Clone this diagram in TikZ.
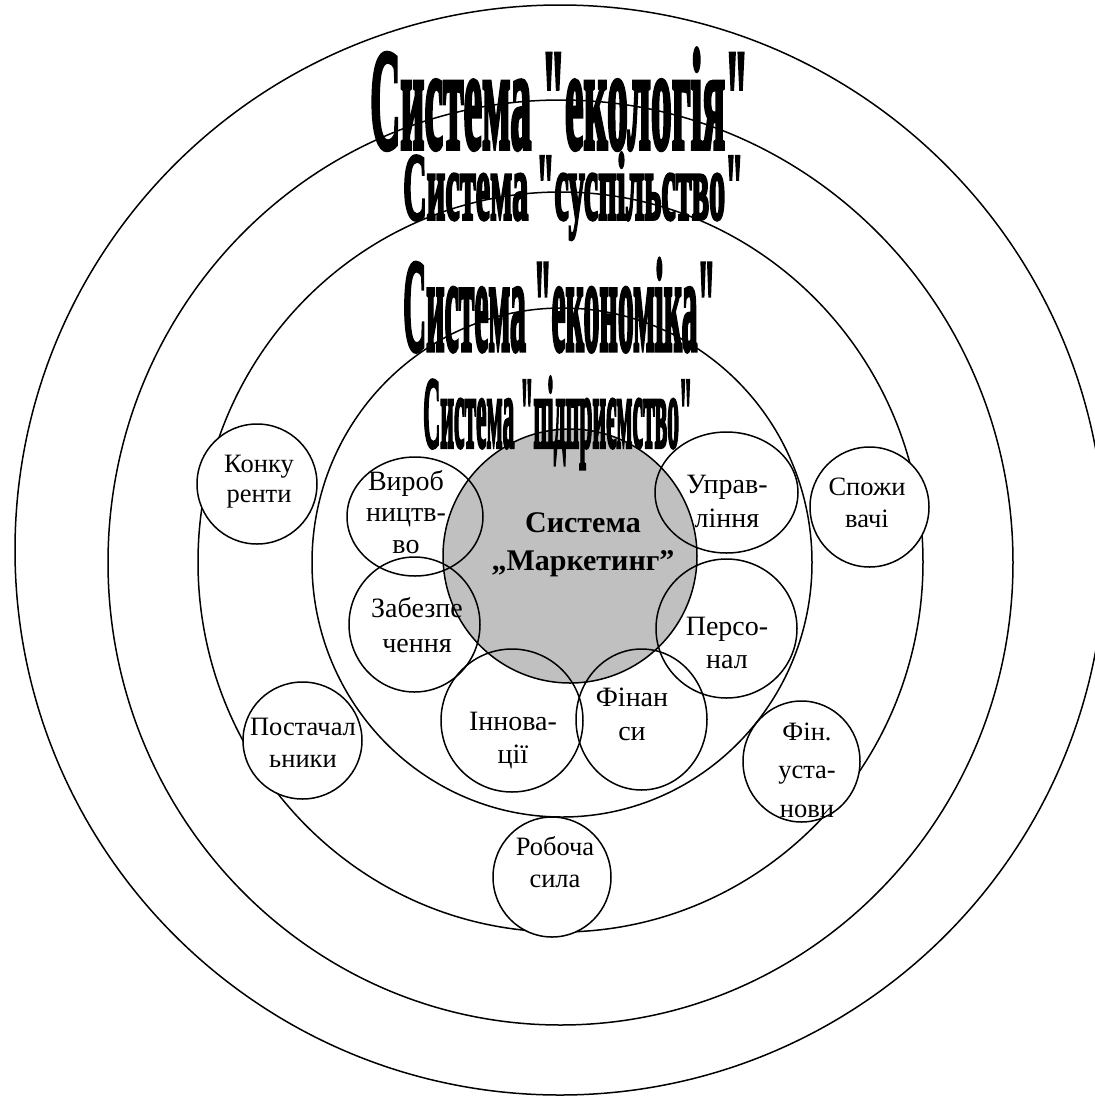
\documentclass[tikz,border=0pt]{standalone}
\usepackage{fontspec}
\setmainfont{Liberation Serif}
\newfontfamily\titlefont{Liberation Serif Bold}[FakeBold=4]
\usepackage{graphicx}
\usetikzlibrary{shapes.geometric}
\definecolor{shade}{HTML}{C0C0C0}
\tikzset{
  ring/.style={draw, ellipse, line width=1.5pt, inner sep=0pt},
  core/.style={ring, fill=shade},
  unit/.style={ring},
  outside/.style={ring, fill=white},
  lab/.style={inner sep=0pt, align=center, anchor=north, font=\fontsize{26.5}{#1}\selectfont},
  ilab/.style={inner sep=0pt, align=center, anchor=north, font=\fontsize{28}{#1}\selectfont},
  title/.style={inner sep=0pt, anchor=base west, font=\titlefont},
}
\begin{document}
\begin{tikzpicture}[x=1pt,y=-1pt]
\useasboundingbox (0,0) rectangle (1095,1096);
\clip (0,0) rectangle (1095,1096);
% system rings
\node[ring, minimum width=1090pt, minimum height=1090pt] (eco) at (560,550) {};
\node[ring, minimum width=905pt, minimum height=925pt] (soc) at (560.5,562.5) {};
\node[ring, minimum width=725pt, minimum height=740pt] (econ) at (560.5,562) {};
\node[ring, minimum width=500pt, minimum height=509pt] (ent) at (562,562.5) {};
% marketing core
\node[core, minimum size=254pt] (mark) at (570,556) {};
% enterprise units
\node[unit, minimum width=136pt, minimum height=119pt] (vyr) at (415,516.5) {};
\node[unit, minimum width=143pt, minimum height=121pt] (upr) at (726.5,492.5) {};
\node[unit, minimum width=131pt, minimum height=135pt] (zab) at (414.5,624.5) {};
\node[unit, minimum width=141pt, minimum height=139pt] (pers) at (726.5,628.5) {};
\node[unit, minimum width=142pt, minimum height=143pt] (inn) at (512,720.5) {};
\node[unit, minimum width=131pt, minimum height=141pt] (fin) at (641.5,719.5) {};
% economy actors
\node[outside, minimum width=120pt, minimum height=120pt] (konk) at (257,484) {};
\node[outside, minimum width=119pt, minimum height=120pt] (spoz) at (869.5,507) {};
\node[outside, minimum width=119pt, minimum height=117pt] (post) at (302.5,740.5) {};
\node[outside, minimum width=117pt, minimum height=121pt] (finu) at (801.5,761.5) {};
\node[outside, minimum width=118pt, minimum height=120pt] (rob) at (552,877) {};
% titles
\node[title] (teco) at (370,148) {\resizebox{378pt}{99pt}{Система "екологія"}};
\node[title] (tsoc) at (403,219) {\resizebox{340pt}{66pt}{Система "суспільство"}};
\node[title] (tecn) at (403,350) {\resizebox{312pt}{91pt}{Система "економіка"}};
\node[title] (tent) at (423,447) {\resizebox{269pt}{70pt}{Система "підприємство"}};
% core label
\node[inner sep=0pt, align=center, anchor=north, font=\fontsize{30}{38}\selectfont\bfseries] (tmark) at (583,505.4) {\strut Система\\\strut „Маркетинг”};
% unit labels
\node[ilab=31.5] (tvyr) at (406,468) {\strut Вироб\\\strut ництв-\\\strut во};
\node[ilab=34] (tupr) at (727,469.2) {\strut Управ-\\\strut ління};
\node[ilab=35] (tzab) at (417,592.5) {\strut Забезпе\\\strut чення};
\node[ilab=33] (tpers) at (727,611.9) {\strut Персо-\\\strut нал};
\node[ilab=33] (tinn) at (513,706.9) {\strut Іннова-\\\strut ції};
\node[ilab=34] (tfin) at (632,682.2) {\strut Фінан\\\strut си};
% actor labels
\node[lab=30] (tkonk) at (259,451) {\strut Конку\\\strut ренти};
\node[lab=32] (tspoz) at (867,472.6) {\strut Спожи\\\strut вачі};
\node[lab=32] (tpost) at (303,712.6) {\strut Постачал\\\strut ьники};
\node[lab=38.5] (tfinu) at (807,713) {\strut Фін.\\\strut уста-\\\strut нови};
\node[lab=32] (trob) at (555,832.6) {\strut Робоча\\\strut сила};
\end{tikzpicture}
\end{document}
